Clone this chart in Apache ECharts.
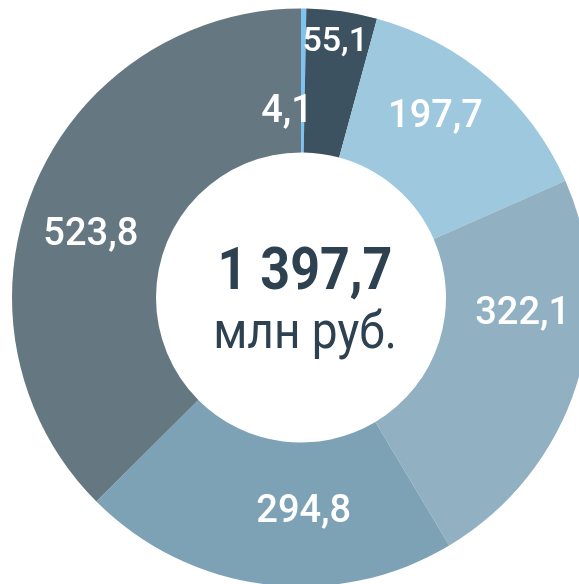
<!DOCTYPE html>
<html>
<head>
<meta charset="utf-8">
<script src="https://cdn.jsdelivr.net/npm/echarts@6/dist/echarts.min.js"></script>
<style>
html,body{margin:0;padding:0;background:#fff;}
#chart{width:579px;height:584px;}
</style>
</head>
<body>
<div id="chart"></div>
<script>
const categories = ['a', 'b', 'c', 'd', 'e', 'f'];
const values = [4.1, 55.1, 197.7, 322.1, 294.8, 523.8];
const totalText = '1 397,7';
const unitText = 'млн руб.';

const colors = ['#7fc4f0', '#3c5260', '#9dc8de', '#91b1c3', '#7ea2b5', '#657882'];
const labelOffsets = [[-16, 35], [3, -37], [-9, -13], [12, -50], [30, -3], [-7, 22]];
const labelSizes = [38, 34, 38, 38, 38, 38];

const chart = echarts.init(document.getElementById('chart'), null, {renderer: 'canvas'});
const fmt = v => String(v).replace('.', ',');

chart.setOption({
  animation: false,
  backgroundColor: '#ffffff',
  series: [{
    type: 'pie',
    center: [301, 297.5],
    radius: [145, 289],
    startAngle: 90,
    clockwise: true,
    avoidLabelOverlap: false,
    labelLine: {show: false},
    itemStyle: {borderWidth: 0},
    emphasis: {disabled: true},
    data: values.map((v, i) => ({
      name: categories[i],
      value: v,
      itemStyle: {color: colors[i]},
      label: {
        show: true,
        position: 'inside',
        formatter: fmt(v),
        color: '#ffffff',
        fontFamily: 'Roboto',
        fontSize: labelSizes[i],
        fontWeight: 500,
        offset: labelOffsets[i]
      }
    }))
  }],
  graphic: [
    {
      type: 'text',
      x: 305, y: 274,
      scaleY: 1.13,
      style: {
        text: totalText,
        fill: '#2d4150',
        font: 'bold 52px Roboto',
        align: 'center',
        verticalAlign: 'middle'
      }
    },
    {
      type: 'text',
      x: 305, y: 335,
      scaleY: 1.13,
      style: {
        text: unitText,
        fill: '#2d4150',
        font: '46px Roboto',
        align: 'center',
        verticalAlign: 'middle'
      }
    }
  ]
});
</script>
</body>
</html>
